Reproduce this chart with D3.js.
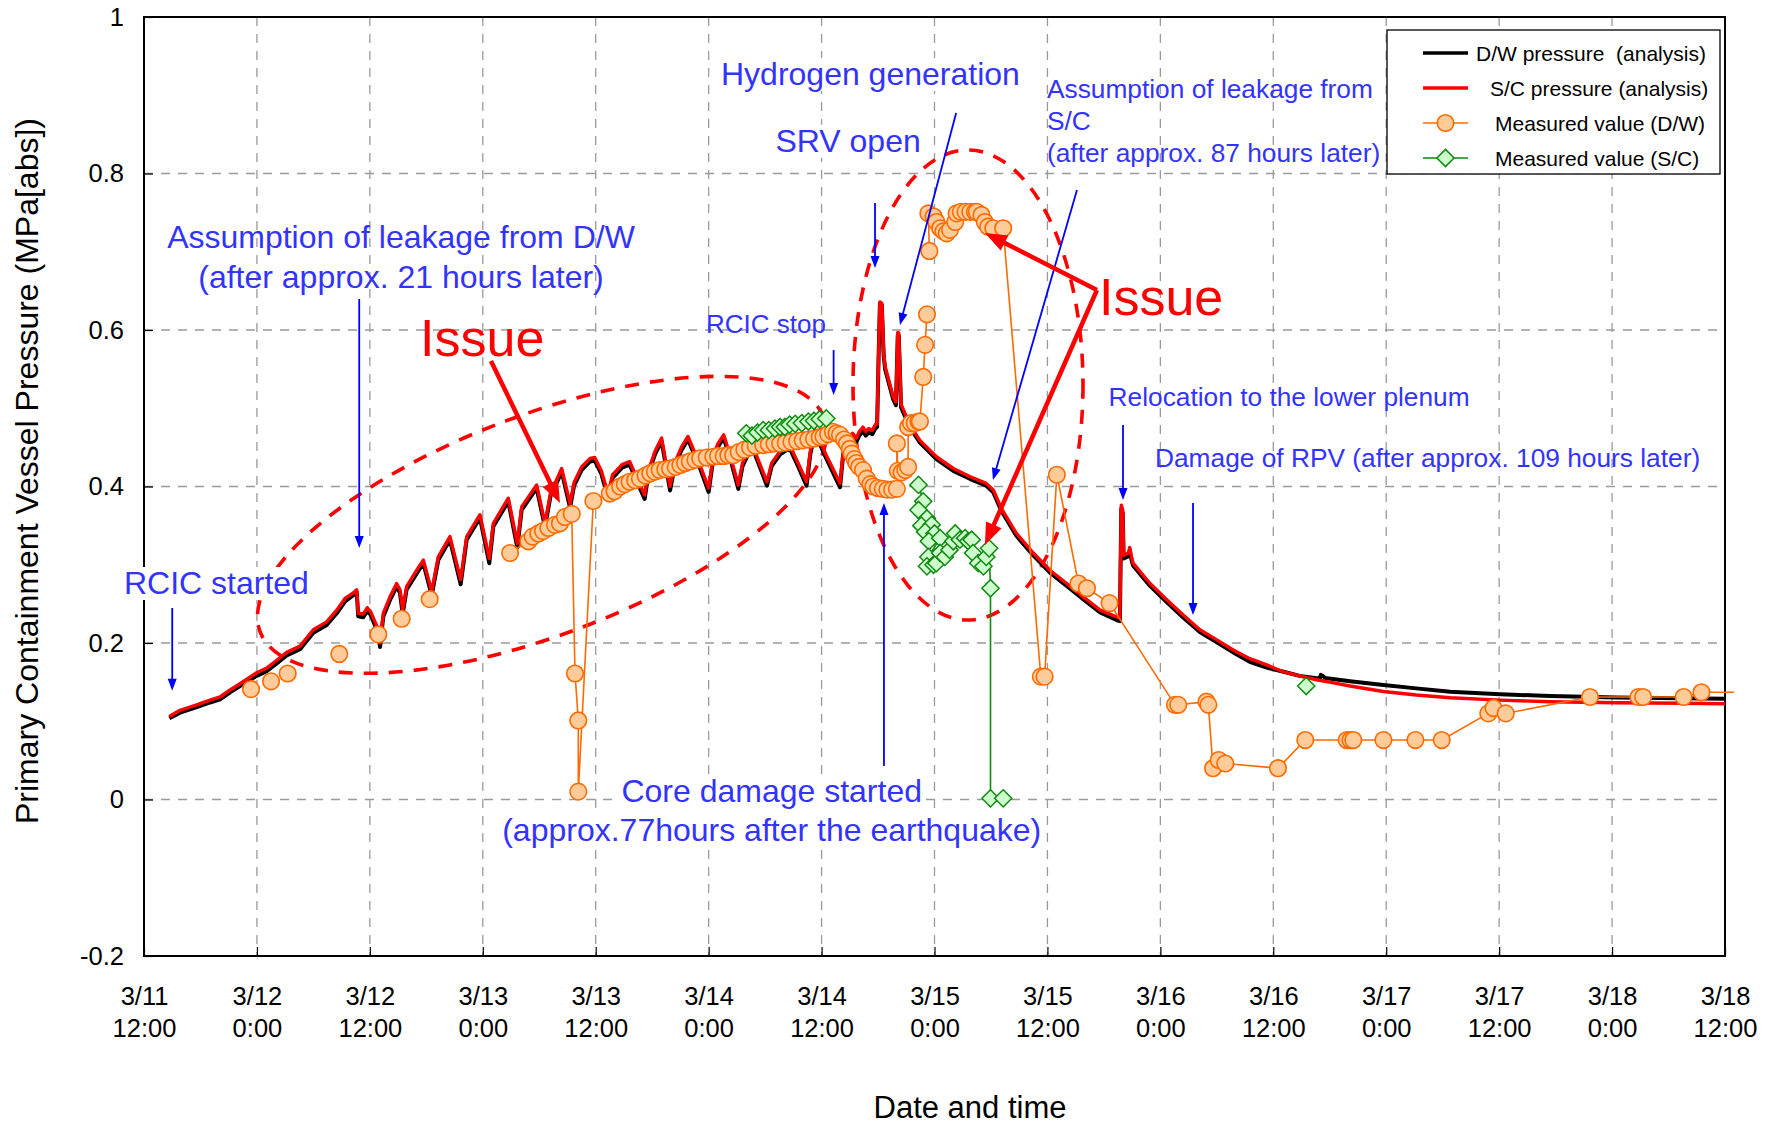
<!DOCTYPE html>
<html>
<head>
<meta charset="utf-8">
<script src="https://cdn.jsdelivr.net/npm/d3@7"></script>
<style>
  body { margin: 0; background: #fff; }
  svg { display: block; font-family: "Liberation Sans", Arial, sans-serif; }
</style>
</head>
<body>
<svg id="chart" width="1771" height="1127"></svg>
<script>
// ---- axis categories (hours counted from 3/11 12:00) ----
const tickHours = [0, 12, 24, 36, 48, 60, 72, 84, 96, 108, 120, 132, 144, 156, 168];
const tickDates = ["3/11", "3/12", "3/12", "3/13", "3/13", "3/14", "3/14", "3/15", "3/15", "3/16", "3/16", "3/17", "3/17", "3/18", "3/18"];
const tickTimes = ["12:00", "0:00", "12:00", "0:00", "12:00", "0:00", "12:00", "0:00", "12:00", "0:00", "12:00", "0:00", "12:00", "0:00", "12:00"];
const yTicks = [-0.2, 0, 0.2, 0.4, 0.6, 0.8, 1];

// ---- S/C pressure (analysis), [hour, MPa abs] ----
const scAnalysis = [
  [2.69,0.106],[3.83,0.114],[5.6,0.121],[7.01,0.127],[8.08,0.131],[9.14,0.140],[10.2,0.148],[11.97,0.162],
  [13.04,0.168],[14.1,0.178],[15.16,0.188],[16.58,0.196],[17.99,0.217],[19.41,0.227],[20.48,0.242],[21.36,0.257],
  [22.24,0.264],[22.6,0.268],[22.77,0.238],[23.3,0.237],[23.73,0.245],[24.08,0.240],[24.9,0.217],[25.08,0.200],
  [25.43,0.238],[26.14,0.259],[26.85,0.276],[27.2,0.268],[27.49,0.242],[27.9,0.272],[28.98,0.293],[29.68,0.306],
  [30.57,0.266],[31.27,0.310],[32.51,0.336],[33.65,0.281],[34.29,0.336],[35.7,0.364],[36.69,0.308],[37.12,0.353],
  [38.71,0.385],[39.67,0.327],[40.13,0.374],[41.72,0.402],[42.61,0.353],[43.2,0.392],[43.9,0.410],[44.38,0.423],
  [45.27,0.378],[45.7,0.405],[46.5,0.425],[47.4,0.436],[47.9,0.437],[48.6,0.420],[49.3,0.391],[49.8,0.415],
  [50.8,0.428],[51.6,0.432],[53.2,0.389],[53.6,0.420],[54.3,0.445],[55.0,0.462],[55.9,0.400],[56.4,0.430],
  [57.1,0.450],[57.8,0.464],[59.0,0.430],[60.0,0.398],[60.5,0.440],[61.0,0.455],[61.6,0.466],[62.4,0.435],
  [63.15,0.402],[63.6,0.430],[64.6,0.455],[65.4,0.430],[66.2,0.406],[66.7,0.430],[67.6,0.445],[68.6,0.453],
  [69.5,0.430],[70.4,0.406],[70.8,0.445],[71.3,0.472],[72.5,0.440],[73.96,0.404],[74.3,0.445],[75.0,0.464],
  [75.3,0.468],[75.7,0.462],[76.0,0.470],[76.4,0.476],[76.7,0.470],[77.0,0.474],[77.4,0.472],[77.7,0.479],
  [77.9,0.480],[78.05,0.560],[78.2,0.636],[78.4,0.634],[78.6,0.570],[78.75,0.553],[79.6,0.515],[79.9,0.508],
  [80.1,0.597],[80.2,0.596],[80.45,0.505],[80.86,0.4935],[81.3,0.480],[82.45,0.459],[84.2,0.438],[86.0,0.423],
  [87.8,0.4125],[89.5,0.404],[90.25,0.3955],[91.1,0.372],[92.7,0.340],[94.5,0.315],[96.27,0.293],[98.05,0.276],
  [99.8,0.259],[101.6,0.242],[103.4,0.233],[103.7,0.232],[103.85,0.376],[104.0,0.370],[104.1,0.312],[104.6,0.315],
  [104.75,0.322],[104.9,0.312],[105.1,0.302],[106.9,0.276],[108.7,0.255],[110.4,0.236],[112.2,0.217],[114.0,0.204],
  [115.75,0.191],[117.5,0.180],[119.3,0.172],[121.1,0.163],[122.8,0.158],[124.6,0.153],[126.4,0.149],[128.15,0.145],
  [131.7,0.138],[135.2,0.1335],[138.8,0.130],[144.1,0.127],[149.4,0.125],[156.5,0.1237],[163.6,0.123],[168,0.1224]
];

// ---- D/W pressure (analysis), [hour, MPa abs] ----
const dwAnalysis = [
  [2.69,0.104],[3.83,0.111],[5.6,0.118],[7.01,0.124],[8.08,0.128],[9.14,0.137],[10.2,0.145],[11.97,0.158],
  [13.04,0.164],[14.1,0.174],[15.16,0.184],[16.58,0.192],[17.99,0.213],[19.41,0.223],[20.48,0.238],[21.36,0.253],
  [22.24,0.261],[22.6,0.265],[22.77,0.234],[23.3,0.233],[23.73,0.241],[24.08,0.236],[24.9,0.212],[25.08,0.195],
  [25.43,0.234],[26.14,0.255],[26.85,0.272],[27.2,0.264],[27.49,0.237],[27.9,0.268],[28.98,0.289],[29.68,0.302],
  [30.57,0.261],[31.27,0.306],[32.51,0.332],[33.65,0.275],[34.29,0.332],[35.7,0.360],[36.69,0.302],[37.12,0.349],
  [38.71,0.381],[39.67,0.322],[40.13,0.370],[41.72,0.398],[42.61,0.348],[43.2,0.388],[43.9,0.406],[44.38,0.419],
  [45.27,0.373],[45.7,0.401],[46.5,0.421],[47.4,0.432],[47.9,0.433],[48.6,0.416],[49.3,0.386],[49.8,0.411],
  [50.8,0.424],[51.6,0.428],[53.2,0.384],[53.6,0.416],[54.3,0.441],[55.0,0.458],[55.9,0.395],[56.4,0.426],
  [57.1,0.446],[57.8,0.460],[59.0,0.426],[60.0,0.393],[60.5,0.436],[61.0,0.451],[61.6,0.462],[62.4,0.431],
  [63.15,0.397],[63.6,0.426],[64.6,0.451],[65.4,0.426],[66.2,0.401],[66.7,0.426],[67.6,0.441],[68.6,0.449],
  [69.5,0.426],[70.4,0.401],[70.8,0.441],[71.3,0.468],[72.5,0.436],[73.96,0.399],[74.3,0.441],[75.0,0.459],
  [75.3,0.463],[75.7,0.457],[76.0,0.465],[76.4,0.471],[76.7,0.465],[77.0,0.469],[77.4,0.467],[77.7,0.474],
  [77.9,0.476],[78.05,0.560],[78.2,0.634],[78.4,0.632],[78.6,0.567],[78.75,0.550],[79.6,0.512],[79.9,0.504],
  [80.1,0.594],[80.2,0.593],[80.45,0.501],[80.86,0.490],[81.3,0.477],[82.45,0.456],[84.2,0.435],[86.0,0.420],
  [87.8,0.4095],[89.5,0.401],[90.25,0.3925],[91.1,0.369],[92.7,0.337],[94.5,0.312],[96.27,0.290],[98.05,0.273],
  [99.8,0.256],[101.6,0.239],[103.4,0.229],[103.7,0.228],[103.85,0.372],[104.0,0.366],[104.1,0.308],[104.6,0.311],
  [104.75,0.318],[104.9,0.308],[105.1,0.299],[106.9,0.273],[108.7,0.252],[110.4,0.233],[112.2,0.214],[114.0,0.201],
  [115.75,0.188],[117.5,0.176],[119.3,0.1685],[121.1,0.1633],[122.8,0.158],[124.6,0.1549],[124.95,0.1549],[125.05,0.1593],
  [125.3,0.1575],[125.5,0.1552],[128.15,0.151],[131.7,0.1463],[135.2,0.142],[138.8,0.1378],[144.1,0.1344],[149.4,0.1323],
  [156.5,0.1305],[163.6,0.1293],[168,0.1288]
];

// ---- Measured value (D/W), null = break in the recorded line ----
const dwMeasured = [
  [11.37,0.141], null, [13.5,0.151], null, [15.27,0.161], null, [20.75,0.186], null,
  [24.9,0.211], null, [27.38,0.231], null, [30.36,0.256], null,
  [38.9,0.315],[40.84,0.330],[41.3,0.336],[41.9,0.340],[42.4,0.343],[42.97,0.347],[43.67,0.351],[44.2,0.353],
  [44.73,0.361],[45.45,0.365],[45.8,0.161],[46.15,0.101],[46.15,0.010],[47.75,0.3815],[49.5,0.391],[50.0,0.394],
  [50.6,0.400],[51.1,0.403],[51.6,0.406],[52.2,0.408],[52.7,0.410],[53.3,0.414],[53.8,0.417],[54.3,0.419],
  [54.8,0.421],[55.4,0.422],[55.9,0.423],[56.5,0.425],[57.0,0.4275],[57.5,0.430],[58.0,0.432],[58.6,0.434],
  [59.1,0.436],[59.8,0.437],[60.5,0.438],[61.0,0.439],[61.6,0.439],[62.1,0.440],[62.6,0.440],[63.2,0.444],
  [63.8,0.447],[64.4,0.450],[65.0,0.452],[65.8,0.453],[66.4,0.454],[67.0,0.455],[67.6,0.455],[68.2,0.456],
  [68.8,0.457],[69.4,0.458],[70.0,0.459],[70.6,0.460],[71.2,0.461],[71.8,0.463],[72.2,0.464],[72.7,0.467],
  [73.2,0.470],[73.6,0.468],[73.96,0.466],[74.4,0.460],[74.7,0.455],[75.0,0.448],[75.2,0.442],[75.5,0.435],
  [75.7,0.430],[76.0,0.425],[76.4,0.421],[76.8,0.410],[77.2,0.403],[77.5,0.400],[78.0,0.398],[78.5,0.397],
  [79.0,0.396],[79.5,0.396],[80.0,0.397],[80.0,0.455],[80.1,0.420],[80.5,0.418],[80.9,0.421],[81.2,0.425],
  [81.2,0.476],[81.5,0.481],[81.9,0.481],[82.3,0.483],[82.45,0.483],[82.8,0.540],[83.0,0.581],[83.2,0.620], null,
  [83.45,0.701],[83.35,0.749],[83.9,0.745],[84.2,0.738],[84.6,0.730],[84.95,0.726],[85.3,0.7235],[85.65,0.728],
  [86.2,0.738],[86.35,0.749],[86.8,0.751],[87.3,0.751],[87.8,0.751],[88.3,0.751],[88.5,0.751],[89.0,0.747],
  [89.35,0.738],[89.7,0.732],[90.25,0.730],[91.3,0.730],[95.3,0.157],[95.7,0.157],[97.0,0.415],[99.3,0.276],
  [100.2,0.270],[102.6,0.251],[109.55,0.121],[109.9,0.121],[112.9,0.125],[113.1,0.121],[113.6,0.040],[114.2,0.0505],
  [114.9,0.046],[120.5,0.040],[123.4,0.076],[127.8,0.076],[128.2,0.076],[128.5,0.076],[131.7,0.076],[135.1,0.076],
  [137.9,0.076],[142.85,0.110],[143.4,0.117],[144.7,0.110],[153.65,0.131],[158.8,0.131],[159.3,0.131],[163.6,0.131],
  [165.5,0.137],[170.0,0.137]
];

// ---- Measured value (S/C), null = break in the recorded line ----
const scMeasured = [
  [64.0,0.468],[64.6,0.465],[65.2,0.469],[65.8,0.472],[66.4,0.472],[67.05,0.474],[67.6,0.476],[68.1,0.476],
  [68.6,0.479],[69.2,0.480],[69.9,0.481],[70.6,0.483],[71.2,0.484],[71.8,0.486],[72.5,0.487], null,
  [82.3,0.402],[82.8,0.381],[82.3,0.370],[83.2,0.359],[82.6,0.350],[83.7,0.351],[83.0,0.342],[84.0,0.340],
  [83.4,0.330],[84.6,0.334],[83.35,0.310],[83.2,0.298],[83.9,0.300],[84.2,0.302],[84.6,0.315],[85.1,0.310],
  [85.6,0.319],[86.0,0.330],[86.2,0.340],[86.7,0.332],[87.25,0.334],[87.6,0.330],[87.95,0.332],[88.1,0.315],
  [88.65,0.302],[89.2,0.298],[89.5,0.310],[89.8,0.321],[89.95,0.270],[89.95,0.0015],[91.3,0.0015], null,
  [123.5,0.145]
];

// ---- series names ----
const seriesNames = ["D/W pressure  (analysis)", "S/C pressure (analysis)", "Measured value (D/W)", "Measured value (S/C)"];

// ---- event notes, anchored in data units (hour, MPa); boxed notes hide the grid behind each line ----
const eventNotes = [
  { lines: ["RCIC started"], at: [-2.13, 0.2626], anchor: "start", size: 32, lead: 0, boxed: true },
  { lines: ["Assumption of leakage from D/W", "(after approx. 21 hours later)"], at: [27.31, 0.7048], anchor: "middle", size: 32, lead: 40, boxed: false },
  { lines: ["RCIC stop"], at: [66.09, 0.5962], anchor: "middle", size: 26, lead: 0, boxed: false },
  { lines: ["Hydrogen generation"], at: [61.31, 0.9131], anchor: "start", size: 32, lead: 0, boxed: true },
  { lines: ["SRV open"], at: [67.1, 0.8279], anchor: "start", size: 32, lead: 0, boxed: true },
  { lines: ["Assumption of leakage from", "S/C", "(after approx. 87 hours later)"], at: [95.95, 0.8965], anchor: "start", size: 26.3, lead: 32, boxed: false },
  { lines: ["Relocation to the lower plenum"], at: [102.5, 0.5029], anchor: "start", size: 26.3, lead: 0, boxed: false },
  { lines: ["Damage of RPV (after approx. 109 hours later)"], at: [107.43, 0.4245], anchor: "start", size: 26.3, lead: 0, boxed: false },
  { lines: ["Core damage started", "(approx.77hours after the earthquake)"], at: [66.7, -0.0032], anchor: "middle", size: 32, lead: 39, boxed: true }
];
const eventArrows = [
  { from: [3.0, 0.2447], to: [3.0, 0.139] },
  { from: [22.87, 0.6396], to: [22.87, 0.3214] },
  { from: [73.28, 0.5744], to: [73.28, 0.5169] },
  { from: [86.3, 0.8773], to: [80.33, 0.6064] },
  { from: [77.68, 0.7623], to: [77.68, 0.6792] },
  { from: [99.14, 0.7789], to: [90.21, 0.4083] },
  { from: [104.03, 0.4786], to: [104.03, 0.3827] },
  { from: [111.47, 0.3789], to: [111.47, 0.2358] },
  { from: [78.63, 0.0428], to: [78.63, 0.3789] }
];
const issueLabels = [ { at: [29.33, 0.5668] }, { at: [101.48, 0.6192] } ];
const issueArrows = [
  { from: [36.87, 0.5604], to: [44.2, 0.3789] },
  { from: [101.26, 0.6511], to: [89.36, 0.724] },
  { from: [101.26, 0.6511], to: [89.36, 0.3252] }
];
const issueRings = [
  { at: [42.3, 0.351], rx: 301.6, ry: 110, angle: -20.8 },
  { at: [87.56, 0.5297], rx: 115, ry: 235, angle: 0 }
];

// ---- layout ----
const M = { left: 144, right: 1725, top: 17, bottom: 956 };
const x = d3.scaleLinear().domain([0, 168]).range([M.left, M.right]);
const y = d3.scaleLinear().domain([-0.2, 1]).range([M.bottom, M.top]);
const svg = d3.select("#chart");

const C = {
  grid: "#9a9a9a", black: "#000000", red: "#ff0000",
  orange: "#ff6a00", peach: "#ffcc99", green: "#108a10", mint: "#ccffcc",
  noteText: "#3333ff", noteArrow: "#0000ff"
};

// gridlines
const grid = svg.append("g").attr("class", "grid");
grid.selectAll("line.gy").data(yTicks.filter(d => d > -0.2 && d < 1)).join("line")
  .attr("class", "gy")
  .attr("x1", M.left).attr("x2", M.right)
  .attr("y1", d => y(d)).attr("y2", d => y(d))
  .attr("stroke", C.grid).attr("stroke-width", 1.3).attr("stroke-dasharray", "9,8");
grid.selectAll("line.gx").data(tickHours.filter(d => d > 0 && d < 168)).join("line")
  .attr("class", "gx")
  .attr("y1", M.top).attr("y2", M.bottom)
  .attr("x1", d => x(d)).attr("x2", d => x(d))
  .attr("stroke", C.grid).attr("stroke-width", 1.3).attr("stroke-dasharray", "9,8");

// axes
const gx = svg.append("g").attr("transform", `translate(0,${M.bottom})`)
  .call(d3.axisBottom(x).tickValues(tickHours).tickSizeInner(-9).tickSizeOuter(0).tickFormat(() => ""));
gx.select(".domain").remove();
gx.selectAll(".tick line").attr("stroke", C.black).attr("stroke-width", 1.2);
gx.selectAll(".tick text").remove();
gx.selectAll(".tick").each(function (d) {
  const i = tickHours.indexOf(d);
  const t = d3.select(this).append("text")
    .attr("fill", C.black).attr("font-size", 25.5).attr("text-anchor", "middle");
  t.append("tspan").attr("x", 0).attr("y", 49).text(tickDates[i]);
  t.append("tspan").attr("x", 0).attr("y", 81).text(tickTimes[i]);
});

const gy = svg.append("g").attr("transform", `translate(${M.left},0)`)
  .call(d3.axisLeft(y).tickValues(yTicks).tickSizeInner(-9).tickSizeOuter(0).tickPadding(20)
    .tickFormat(d => (d === 0 ? "0" : d === 1 ? "1" : d.toFixed(1))));
gy.select(".domain").remove();
gy.selectAll(".tick line").attr("stroke", C.black).attr("stroke-width", 1.2);
gy.selectAll(".tick text").attr("fill", C.black).attr("font-size", 25.5);
gx.attr("font-family", null);
gy.attr("font-family", null);

// plot frame
svg.append("rect")
  .attr("x", M.left).attr("y", M.top)
  .attr("width", M.right - M.left).attr("height", M.bottom - M.top)
  .attr("fill", "none").attr("stroke", C.black).attr("stroke-width", 2);

// axis titles
svg.append("text")
  .attr("transform", `translate(38,471) rotate(-90)`)
  .attr("text-anchor", "middle").attr("font-size", 32).attr("fill", C.black)
  .text("Primary Containment Vessel Pressure (MPa[abs])");
svg.append("text")
  .attr("x", 970).attr("y", 1118)
  .attr("text-anchor", "middle").attr("font-size", 31).attr("fill", C.black)
  .text("Date and time");

// dashed rings around the disputed stretches (under the notes so boxed notes cover them)
const issues = svg.append("g");

// series
svg.append("clipPath").attr("id", "plotClip")
  .append("rect").attr("x", M.left - 12).attr("y", M.top - 12)
  .attr("width", 1734 - (M.left - 12)).attr("height", M.bottom - M.top + 24);

// note boxes sit under the data so markers stay visible
const noteBoxes = svg.append("g");
const plot = svg.append("g").attr("clip-path", "url(#plotClip)");

const line = d3.line().defined(d => d !== null).x(d => x(d[0])).y(d => y(d[1]));

plot.append("path").datum(dwAnalysis).attr("d", line)
  .attr("fill", "none").attr("stroke", C.black).attr("stroke-width", 4).attr("stroke-linejoin", "round");
plot.append("path").datum(scAnalysis).attr("d", line)
  .attr("fill", "none").attr("stroke", C.red).attr("stroke-width", 3.4).attr("stroke-linejoin", "round");

plot.append("path").datum(dwMeasured).attr("d", line)
  .attr("fill", "none").attr("stroke", C.orange).attr("stroke-width", 1.6);
plot.selectAll("circle.dw").data(dwMeasured.filter(d => d !== null)).join("circle")
  .attr("class", "dw")
  .attr("cx", d => x(d[0])).attr("cy", d => y(d[1])).attr("r", 8.3)
  .attr("fill", C.peach).attr("stroke", C.orange).attr("stroke-width", 1.6);

const diamond = "M0,-8.6L8.6,0L0,8.6L-8.6,0Z";
plot.append("path").datum(scMeasured).attr("d", line)
  .attr("fill", "none").attr("stroke", C.green).attr("stroke-width", 1.6);
plot.selectAll("path.sc").data(scMeasured.filter(d => d !== null)).join("path")
  .attr("class", "sc")
  .attr("transform", d => `translate(${x(d[0])},${y(d[1])})`)
  .attr("d", diamond)
  .attr("fill", C.mint).attr("stroke", C.green).attr("stroke-width", 1.5);

issueRings.forEach(r => {
  issues.append("ellipse")
    .attr("transform", `translate(${x(r.at[0])},${y(r.at[1])}) rotate(${r.angle})`)
    .attr("rx", r.rx).attr("ry", r.ry)
    .attr("fill", "none").attr("stroke", C.red).attr("stroke-width", 3.6)
    .attr("stroke-dasharray", "14,11");
});

// arrows
function drawArrow(g, a, color, width, headLen, headW) {
  const x1 = x(a.from[0]), y1 = y(a.from[1]), x2 = x(a.to[0]), y2 = y(a.to[1]);
  const dx = x2 - x1, dy = y2 - y1, len = Math.hypot(dx, dy);
  const ux = dx / len, uy = dy / len, nx = -uy, ny = ux;
  const bx = x2 - ux * headLen, by = y2 - uy * headLen;
  g.append("line").attr("x1", x1).attr("y1", y1).attr("x2", bx + ux * 2).attr("y2", by + uy * 2)
    .attr("stroke", color).attr("stroke-width", width);
  g.append("path")
    .attr("d", `M${x2},${y2}L${bx + nx * headW / 2},${by + ny * headW / 2}L${bx - nx * headW / 2},${by - ny * headW / 2}Z`)
    .attr("fill", color);
}

// event notes
const notes = svg.append("g");
eventArrows.forEach(a => drawArrow(notes, a, C.noteArrow, 1.8, 12, 9));
eventNotes.forEach(n => {
  n.lines.forEach((s, i) => {
    const t = notes.append("text")
      .attr("x", x(n.at[0])).attr("y", y(n.at[1]) + i * n.lead)
      .attr("text-anchor", n.anchor).attr("font-size", n.size).attr("fill", C.noteText)
      .text(s);
    if (n.boxed) {
      const b = t.node().getBBox();
      noteBoxes.append("rect")
        .attr("x", b.x - 4).attr("y", b.y + 2).attr("width", b.width + 8).attr("height", b.height - 3)
        .attr("fill", "#fff");
    }
  });
});

// the RCIC-start box also covers the left ring, so repeat it above the rings
eventNotes.filter(n => n.anchor === "start" && n.boxed && n.at[0] < 0).forEach(n => {
  const t = notes.append("text")
    .attr("x", x(n.at[0])).attr("y", y(n.at[1]))
    .attr("font-size", n.size).attr("fill", C.noteText).attr("opacity", 0).text(n.lines[0]);
  const b = t.node().getBBox();
  t.remove();
  issues.append("rect")
    .attr("x", b.x - 4).attr("y", b.y + 2).attr("width", b.width + 8).attr("height", b.height - 3)
    .attr("fill", "#fff");
});

// issue arrows and labels
const issueTop = svg.append("g");
issueArrows.forEach(a => drawArrow(issueTop, a, C.red, 4.5, 22, 17));
issueLabels.forEach(l => {
  issueTop.append("text").attr("x", x(l.at[0])).attr("y", y(l.at[1]))
    .attr("font-size", 52).attr("fill", C.red).text("Issue");
});

// legend
const lg = svg.append("g").attr("transform", "translate(1387,30)");
lg.append("rect").attr("width", 333).attr("height", 144)
  .attr("fill", "#fff").attr("stroke", C.black).attr("stroke-width", 1.3);
const rows = [23, 58, 93, 128];
const textX = [89, 103, 108, 108];
lg.append("line").attr("x1", 36).attr("x2", 81).attr("y1", rows[0]).attr("y2", rows[0])
  .attr("stroke", C.black).attr("stroke-width", 3.5);
lg.append("line").attr("x1", 36).attr("x2", 81).attr("y1", rows[1]).attr("y2", rows[1])
  .attr("stroke", C.red).attr("stroke-width", 3.5);
lg.append("line").attr("x1", 36).attr("x2", 81).attr("y1", rows[2]).attr("y2", rows[2])
  .attr("stroke", C.orange).attr("stroke-width", 1.6);
lg.append("circle").attr("cx", 58.5).attr("cy", rows[2]).attr("r", 8.3)
  .attr("fill", C.peach).attr("stroke", C.orange).attr("stroke-width", 1.6);
lg.append("line").attr("x1", 36).attr("x2", 81).attr("y1", rows[3]).attr("y2", rows[3])
  .attr("stroke", C.green).attr("stroke-width", 1.6);
lg.append("path").attr("transform", `translate(58.5,${rows[3]})`).attr("d", diamond)
  .attr("fill", C.mint).attr("stroke", C.green).attr("stroke-width", 1.5);
seriesNames.forEach((s, i) => {
  lg.append("text").attr("x", textX[i]).attr("y", rows[i] + 7.5)
    .attr("font-size", 21).attr("fill", C.black)
    .style("white-space", "pre").text(s);
});
</script>
</body>
</html>
